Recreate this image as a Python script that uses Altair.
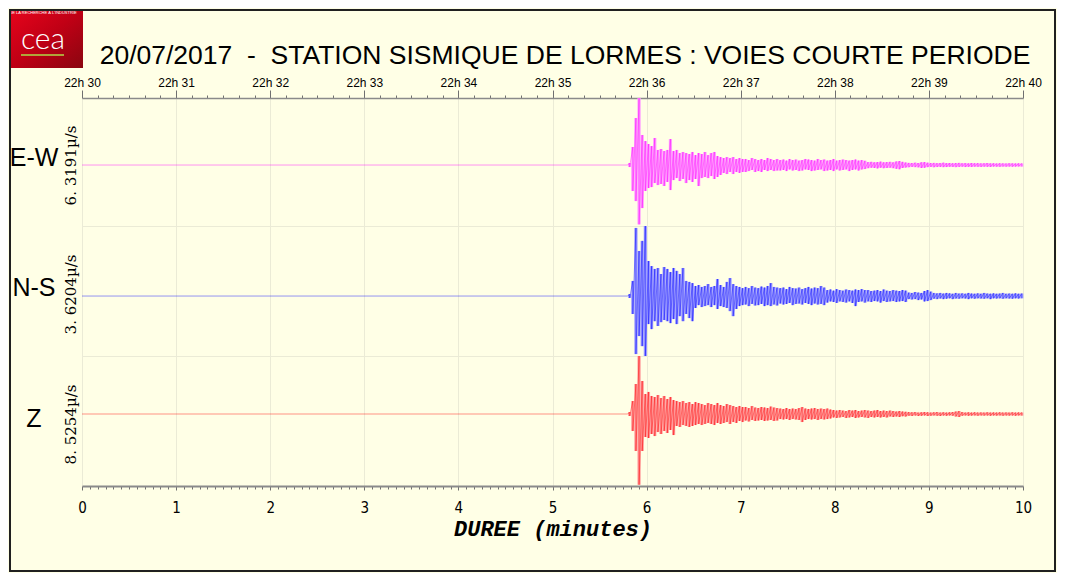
import altair as alt
import pandas as pd

# ---------------- data ----------------
channels = ["E-W", "N-S", "Z"]
peak_labels = ["6. 3191µ/s", "3. 6204µ/s", "8. 5254µ/s"]
title_text = "20/07/2017\u00a0\u00a0-\u00a0\u00a0STATION SISMIQUE DE LORMES : VOIES COURTE PERIODE"
x_title = "DUREE (minutes)"
hour_label = "22h "
first_minute = 30

y_domains = [[-5.75, 6.3191], [-3.10, 3.6204], [-10.58, 8.5254]]

# quiet part before the arrival (minutes, µm/s)
pre_t = [0.0, 5.80]
pre_v = [0.0, 0.0]

# envelope sampled every 2 s from the onset at 5.82 min (µm/s)
t0 = 5.82
dt = 1.0 / 30.0

ew_hi = [0.19, 1.70, 4.43, 6.3191, 2.83, 2.26, 1.98, 1.79, 2.55, 1.42,
         1.51, 1.32, 1.42, 2.45, 1.32, 1.42, 1.13, 1.23, 1.13, 1.04,
         1.23, 0.94, 1.13, 1.04, 1.23, 0.94, 1.13, 1.23, 0.85, 0.75,
         0.66, 0.75, 0.66, 0.75, 0.57, 0.66, 0.57, 0.57, 0.47, 0.66,
         0.57, 0.47, 0.57, 0.47, 0.66, 0.57, 0.47, 0.57, 0.47, 0.52,
         0.42, 0.57, 0.47, 0.52, 0.42, 0.47, 0.57, 0.52, 0.47, 0.42,
         0.57, 0.47, 0.52, 0.42, 0.47, 0.57, 0.42, 0.47, 0.52, 0.47,
         0.42, 0.47, 0.52, 0.42, 0.47, 0.40, 0.28, 0.30, 0.26, 0.28,
         0.32, 0.26, 0.28, 0.30, 0.26, 0.34, 0.38, 0.30, 0.24, 0.20,
         0.19, 0.22, 0.19, 0.26, 0.28, 0.22, 0.19, 0.20, 0.18, 0.19,
         0.22, 0.18, 0.19, 0.17, 0.19, 0.20, 0.17, 0.18, 0.16, 0.19,
         0.17, 0.18, 0.16, 0.17, 0.19, 0.16, 0.17, 0.15, 0.17, 0.16,
         0.15, 0.17, 0.16, 0.15, 0.16, 0.15]
ew_lo = [-0.19, -2.45, -3.40, -5.60, -4.06, -2.45, -2.17, -2.08, -1.70, -1.89,
         -1.79, -1.98, -1.60, -2.36, -1.42, -1.23, -1.51, -1.32, -1.70, -1.42,
         -1.60, -1.32, -1.98, -1.23, -1.13, -1.23, -1.04, -1.32, -1.13, -0.94,
         -0.75, -0.85, -0.66, -0.85, -0.66, -0.75, -0.66, -0.66, -0.57, -0.47,
         -0.66, -0.57, -0.66, -0.47, -0.57, -0.47, -0.57, -0.52, -0.52, -0.47,
         -0.57, -0.42, -0.52, -0.47, -0.57, -0.52, -0.42, -0.47, -0.57, -0.52,
         -0.47, -0.42, -0.57, -0.52, -0.47, -0.57, -0.42, -0.52, -0.47, -0.42,
         -0.57, -0.47, -0.42, -0.52, -0.42, -0.38, -0.30, -0.26, -0.28, -0.32,
         -0.26, -0.30, -0.28, -0.26, -0.30, -0.36, -0.40, -0.28, -0.24, -0.21,
         -0.18, -0.20, -0.22, -0.28, -0.26, -0.20, -0.18, -0.21, -0.19, -0.18,
         -0.20, -0.19, -0.17, -0.18, -0.20, -0.18, -0.16, -0.19, -0.17, -0.18,
         -0.16, -0.17, -0.18, -0.16, -0.17, -0.18, -0.15, -0.16, -0.17, -0.15,
         -0.16, -0.15, -0.16, -0.15, -0.14, -0.15]

ns_hi = [0.10, 0.78, 3.52, 2.33, 2.85, 3.6204, 1.81, 1.55, 1.40, 1.45,
         1.14, 1.50, 1.40, 1.24, 1.45, 1.30, 1.14, 1.45, 0.78, 0.73,
         0.67, 0.52, 0.57, 0.47, 0.52, 0.62, 0.47, 0.52, 0.88, 0.57,
         0.47, 0.73, 0.93, 0.62, 0.52, 0.47, 0.41, 0.47, 0.41, 0.52,
         0.44, 0.41, 0.49, 0.44, 0.52, 0.67, 0.47, 0.44, 0.41, 0.44,
         0.36, 0.47, 0.41, 0.39, 0.44, 0.36, 0.41, 0.47, 0.39, 0.44,
         0.41, 0.52, 0.44, 0.31, 0.34, 0.28, 0.36, 0.31, 0.28, 0.34,
         0.31, 0.28, 0.34, 0.31, 0.36, 0.31, 0.31, 0.26, 0.28, 0.31,
         0.26, 0.34, 0.28, 0.26, 0.31, 0.28, 0.26, 0.31, 0.28, 0.18,
         0.16, 0.21, 0.18, 0.16, 0.26, 0.31, 0.23, 0.16, 0.14, 0.16,
         0.13, 0.16, 0.14, 0.12, 0.16, 0.13, 0.14, 0.12, 0.16, 0.13,
         0.12, 0.14, 0.12, 0.16, 0.13, 0.12, 0.14, 0.12, 0.13, 0.16,
         0.12, 0.13, 0.12, 0.14, 0.12, 0.13]
ns_lo = [-0.10, -0.93, -3.00, -2.07, -2.59, -3.10, -1.45, -1.71, -1.30, -1.55,
         -1.35, -1.24, -1.30, -1.40, -1.19, -1.45, -1.04, -1.30, -0.93, -1.14,
         -1.30, -0.62, -0.47, -0.57, -0.52, -0.47, -0.57, -0.47, -0.67, -0.52,
         -0.57, -0.62, -0.78, -1.04, -0.67, -0.52, -0.47, -0.44, -0.52, -0.41,
         -0.49, -0.47, -0.41, -0.52, -0.47, -0.52, -0.44, -0.49, -0.39, -0.44,
         -0.41, -0.36, -0.47, -0.41, -0.39, -0.44, -0.36, -0.41, -0.47, -0.39,
         -0.44, -0.41, -0.47, -0.34, -0.28, -0.31, -0.36, -0.28, -0.31, -0.34,
         -0.28, -0.36, -0.52, -0.31, -0.28, -0.34, -0.28, -0.31, -0.26, -0.28,
         -0.34, -0.26, -0.31, -0.28, -0.26, -0.31, -0.28, -0.26, -0.31, -0.16,
         -0.18, -0.16, -0.21, -0.18, -0.28, -0.26, -0.21, -0.14, -0.16, -0.13,
         -0.16, -0.14, -0.12, -0.16, -0.13, -0.14, -0.12, -0.13, -0.16, -0.12,
         -0.14, -0.12, -0.13, -0.14, -0.12, -0.16, -0.12, -0.13, -0.12, -0.14,
         -0.12, -0.13, -0.14, -0.12, -0.13, -0.12]

z_hi = [0.29, 1.91, 4.41, 8.5254, 4.85, 2.94, 3.24, 2.65, 2.50, 2.79,
        2.35, 2.65, 2.21, 2.50, 2.06, 1.91, 1.76, 1.91, 1.62, 1.76,
        1.47, 1.76, 1.62, 1.47, 1.32, 1.62, 1.47, 1.32, 1.62, 1.32,
        1.18, 1.47, 1.32, 1.18, 1.03, 1.18, 1.03, 1.03, 0.88, 1.18,
        0.96, 0.88, 1.03, 0.96, 0.88, 1.10, 0.96, 0.88, 0.81, 0.74,
        0.88, 0.74, 0.81, 0.74, 0.88, 1.03, 0.81, 0.74, 0.81, 0.88,
        0.74, 0.81, 0.74, 0.81, 0.66, 0.59, 0.51, 0.59, 0.51, 0.44,
        0.59, 0.51, 0.59, 0.44, 0.51, 0.59, 0.51, 0.44, 0.51, 0.59,
        0.44, 0.51, 0.44, 0.51, 0.44, 0.37, 0.44, 0.37, 0.33, 0.29,
        0.26, 0.29, 0.22, 0.26, 0.29, 0.26, 0.22, 0.26, 0.29, 0.22,
        0.26, 0.22, 0.26, 0.29, 0.37, 0.44, 0.29, 0.22, 0.26, 0.22,
        0.26, 0.22, 0.24, 0.22, 0.26, 0.22, 0.24, 0.22, 0.26, 0.22,
        0.24, 0.22, 0.26, 0.22, 0.24, 0.22]
z_lo = [-0.29, -2.50, -5.44, -10.40, -5.44, -3.38, -3.53, -2.94, -3.24, -2.65,
        -2.94, -2.50, -2.79, -2.35, -3.09, -1.76, -1.91, -1.62, -1.76, -1.91,
        -1.76, -1.62, -1.47, -1.62, -1.47, -1.32, -1.47, -1.62, -1.32, -1.47,
        -1.32, -1.18, -1.47, -1.18, -1.32, -1.03, -1.18, -0.96, -1.10, -0.88,
        -1.03, -0.96, -0.88, -1.03, -0.96, -0.88, -1.03, -0.96, -0.74, -0.81,
        -0.74, -0.88, -0.74, -0.81, -0.88, -1.18, -0.88, -0.74, -0.81, -0.74,
        -0.88, -0.74, -0.81, -0.74, -0.66, -0.51, -0.59, -0.51, -0.44, -0.59,
        -0.51, -0.44, -0.59, -0.51, -0.44, -0.51, -0.59, -0.44, -0.51, -0.44,
        -0.51, -0.44, -0.51, -0.37, -0.44, -0.37, -0.44, -0.33, -0.37, -0.26,
        -0.29, -0.22, -0.29, -0.26, -0.22, -0.29, -0.26, -0.22, -0.26, -0.29,
        -0.22, -0.26, -0.22, -0.26, -0.37, -0.44, -0.26, -0.22, -0.26, -0.24,
        -0.22, -0.26, -0.22, -0.24, -0.22, -0.26, -0.22, -0.24, -0.22, -0.26,
        -0.22, -0.24, -0.22, -0.26, -0.22, -0.24]

traces = [(ew_hi, ew_lo), (ns_hi, ns_lo), (z_hi, z_lo)]

# ---------------- style ----------------
colors = ["#ff00ff", "#0000ff", "#ff0000"]
light_colors = ["#ff9cff", "#9c9cff", "#ff9c9c"]
BG = "#ffffe6"
GRID = "#ebebd6"
W = 941
heights = [128, 130, 130]
name_y = [60, 62, 63]


def frames(hi, lo):
    n = min(len(hi), len(lo))
    ts = [round(t0 + i * dt, 5) for i in range(n)]
    env = pd.DataFrame({"t": ts, "hi": hi[:n], "lo": lo[:n]})
    rows = [{"t": t, "k": k, "v": v} for k, (t, v) in enumerate(zip(pre_t, pre_v))]
    base = len(rows)
    for i in range(n):
        rows.append({"t": ts[i], "k": base + 2 * i, "v": hi[i]})
        rows.append({"t": ts[i], "k": base + 2 * i + 1, "v": lo[i]})
    return env, pd.DataFrame(rows)


x_scale = alt.Scale(domain=[0, 10], nice=False, zero=False)
is_int = "abs(datum.value - round(datum.value)) < 0.001"

top_axis = alt.Axis(
    orient="top", values=[round(k / 6, 5) for k in range(61)],
    labelExpr=f"{is_int} ? '{hour_label}' + ({first_minute} + round(datum.value)) : ''",
    labelFont="Liberation Sans", labelFontSize=12, labelColor="black",
    labelFlush=False, labelOverlap=False, labelPadding=1,
    tickColor="#707070", tickWidth=1,
    tickSize={"condition": {"test": is_int, "value": 8}, "value": 3},
    domainColor="#8a8a8a", domainWidth=1.5,
    grid=True, gridColor=GRID,
    gridOpacity={"condition": {"test": is_int, "value": 1}, "value": 0},
    title=None)

mid_axis = alt.Axis(values=list(range(11)), labels=False, ticks=False, domain=False,
                    grid=True, gridColor=GRID, title=None)

bottom_axis = alt.Axis(
    orient="bottom", values=[round(k / 12, 5) for k in range(121)],
    labelExpr=f"{is_int} ? format(round(datum.value), 'd') : ''",
    labelFont="Liberation Sans Narrow, DejaVu Sans Condensed, Liberation Sans",
    labelFontSize=15, labelColor="black", labelFlush=False, labelOverlap=False,
    labelPadding=10,
    tickColor="#707070", tickWidth=1,
    tickSize={"condition": {"test": is_int, "value": 4}, "value": 3},
    domainColor="#8a8a8a", domainWidth=2,
    grid=True, gridColor=GRID,
    gridOpacity={"condition": {"test": is_int, "value": 1}, "value": 0},
    title=x_title, titleFont="Liberation Mono", titleFontSize=22,
    titleFontStyle="italic", titleFontWeight="bold", titleColor="black",
    titlePadding=3)

x_axes = [top_axis, mid_axis, bottom_axis]


def panel(idx, extra):
    env, zig = frames(*traces[idx])
    ysc = alt.Scale(domain=y_domains[idx], nice=False, zero=False)
    yaxis = alt.Axis(title=peak_labels[idx], labels=False, ticks=False, domain=False,
                     grid=False, titleFont="DejaVu Serif", titleFontSize=15,
                     titleFontWeight="normal", titleColor="black", titleAngle=270,
                     titleX=-12, titleY=heights[idx] / 2 + 3, titleBaseline="middle",
                     titleAlign="center")
    fill = alt.Chart(env).mark_rule(color=light_colors[idx], strokeWidth=3.2).encode(
        x=alt.X("t:Q", scale=x_scale, axis=x_axes[idx]),
        y=alt.Y("lo:Q", scale=ysc, axis=yaxis),
        y2="hi:Q")
    line = alt.Chart(zig).mark_line(color=colors[idx], strokeWidth=0.5,
                                    opacity=0.85).encode(
        x=alt.X("t:Q", scale=x_scale, axis=x_axes[idx]),
        y=alt.Y("v:Q", scale=ysc, axis=yaxis),
        order="k:Q")
    name = alt.Chart(pd.DataFrame({"c": [channels[idx]]})).mark_text(
        font="Liberation Sans", fontSize=25, align="center", baseline="middle",
        color="black").encode(x=alt.value(-48), y=alt.value(name_y[idx]), text="c:N")
    return alt.layer(fill, line, name, *extra).properties(width=W, height=heights[idx])


one = pd.DataFrame({"s": [title_text]})
title_layer = alt.Chart(one).mark_text(
    font="Liberation Sans", fontSize=26.5, align="center", baseline="middle",
    color="black").encode(x=alt.value(483), y=alt.value(-42), text="s:N")

logo_grad = alt.LinearGradient(
    gradient="linear",
    stops=[alt.GradientStop(color="#e8041c", offset=0),
           alt.GradientStop(color="#c00015", offset=0.5),
           alt.GradientStop(color="#8a0610", offset=1)],
    x1=0, y1=0, x2=1, y2=1)
logo = alt.Chart(pd.DataFrame({"s": ["cea"]})).mark_rect(fill=logo_grad).encode(
    x=alt.value(-73), x2=alt.value(1), y=alt.value(-89), y2=alt.value(-30))
logo_txt = alt.Chart(pd.DataFrame({"s": ["cea"]})).mark_text(
    font="Lato", fontSize=30, fontWeight=300, color="white", align="center",
    baseline="alphabetic").encode(x=alt.value(-39), y=alt.value(-49), text="s:N")
logo_small = alt.Chart(pd.DataFrame({"s": ["DE LA RECHERCHE À L'INDUSTRIE"]})).mark_text(
    font="Liberation Sans", fontSize=4, color="white", align="center",
    baseline="middle").encode(x=alt.value(-39), y=alt.value(-85), text="s:N")
logo_bar = alt.Chart(pd.DataFrame({"s": ["bar"]})).mark_rule(
    color="#b0a43a", strokeWidth=2).encode(
    x=alt.value(-61), x2=alt.value(-18), y=alt.value(-43))
frame = alt.Chart(pd.DataFrame({"s": ["frame"]})).mark_rect(
    fill=None, stroke="#202020", strokeWidth=2).encode(
    x=alt.value(-72), x2=alt.value(973), y=alt.value(-88), y2=alt.value(473))

p1 = panel(0, [title_layer, logo, logo_txt, logo_small, logo_bar, frame])
p2 = panel(1, [])
p3 = panel(2, [])

chart = alt.vconcat(p1, p2, p3, spacing=0, bounds="flush").configure(
    background=BG, padding=0
).configure_view(stroke=GRID, fill=None)

chart.save("out.html", embed_options={"renderer": "svg", "actions": False})
